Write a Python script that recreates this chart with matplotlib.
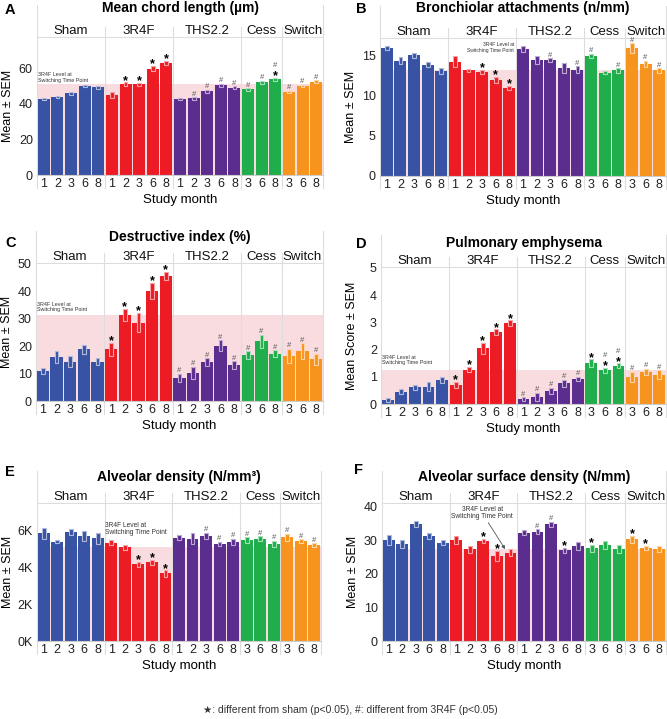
import matplotlib
matplotlib.use("Agg")
import matplotlib.pyplot as plt
from matplotlib.patches import Rectangle
from matplotlib.lines import Line2D
from matplotlib.ticker import FuncFormatter
import matplotlib.transforms as mtransforms
import numpy as np

plt.rcParams['font.family'] = ['Liberation Sans', 'DejaVu Sans']

groups = ["Sham", "3R4F", "THS2.2", "Cess", "Switch"]
months = [[1, 2, 3, 6, 8], [1, 2, 3, 6, 8], [1, 2, 3, 6, 8], [3, 6, 8], [3, 6, 8]]
colors = ["#3953a4", "#ed1c24", "#5b2d8e", "#1fae4b", "#f7941d"]

# A: mean chord length
mcl_mean = [42.4, 43.9, 45.8, 49.9, 49.1, 44.8, 51.0, 50.8, 59.7, 62.9,
            42.6, 43.0, 47.0, 50.4, 48.9, 48.0, 52.0, 53.6, 46.7, 49.9, 52.3]
mcl_sem = [0.6, 0.5, 0.7, 0.8, 0.7, 1.5, 1.0, 1.0, 1.5, 1.0,
           0.5, 0.7, 0.9, 0.8, 0.9, 0.8, 0.8, 1.0, 0.6, 0.7, 0.8]
mcl_marks = ["", "", "", "", "", "", "*", "*", "*", "*",
             "", "#", "#", "#", "#", "#", "#", "#*", "#", "#", "#"]

# B: bronchiolar attachments
ba_mean = [16.0, 14.4, 15.1, 13.9, 13.1, 14.3, 13.2, 13.0, 12.0, 11.0,
           15.9, 14.5, 14.5, 13.5, 13.3, 15.0, 12.9, 13.2, 16.0, 14.0, 13.2]
ba_sem = [0.3, 0.45, 0.3, 0.3, 0.4, 0.7, 0.2, 0.3, 0.4, 0.3,
          0.4, 0.5, 0.25, 0.6, 0.4, 0.3, 0.2, 0.3, 0.6, 0.4, 0.3]
ba_marks = ["", "", "", "", "", "", "", "*", "*", "*",
            "", "", "#", "", "#", "#", "", "#", "#", "#", "#"]

# C: destructive index
di_mean = [11.0, 16.1, 14.3, 18.8, 14.3, 18.8, 31.5, 28.6, 40.1, 45.5,
           8.5, 10.3, 14.2, 20.1, 13.1, 16.7, 21.8, 17.3, 16.5, 18.2, 15.3]
di_sem = [1.2, 2.2, 2.0, 1.6, 1.2, 2.4, 2.2, 3.5, 3.0, 1.5,
          1.5, 2.2, 1.5, 2.0, 1.5, 1.5, 2.4, 1.2, 2.5, 2.8, 2.0]
di_marks = ["", "", "", "", "", "*", "*", "*", "*", "*",
            "#", "#", "#", "#", "#", "#", "#", "#", "#", "#", "#"]

# D: pulmonary emphysema
pe_mean = [0.15, 0.45, 0.61, 0.64, 0.88, 0.71, 1.26, 2.05, 2.64, 2.97,
           0.18, 0.27, 0.49, 0.76, 0.92, 1.50, 1.23, 1.41, 1.00, 1.17, 1.08]
pe_sem = [0.07, 0.1, 0.1, 0.17, 0.12, 0.11, 0.1, 0.2, 0.1, 0.1,
          0.07, 0.15, 0.11, 0.13, 0.08, 0.14, 0.1, 0.08, 0.18, 0.12, 0.15]
pe_marks = ["", "", "", "", "", "*", "*", "*", "*", "*",
            "#", "#", "#", "#", "#", "*", "#*", "#*", "#", "#", "#"]

# E: alveolar density
ad_mean = [5850, 5400, 5930, 5710, 5580, 5350, 5090, 4160, 4270, 3670,
           5620, 5550, 5710, 5270, 5400, 5490, 5550, 5270, 5640, 5440, 5220]
ad_sem = [300, 100, 180, 270, 300, 150, 150, 120, 140, 170,
          150, 300, 180, 120, 170, 150, 140, 180, 200, 100, 100]
ad_marks = ["", "", "", "", "", "", "", "*", "*", "*",
            "", "", "#", "#", "#", "#", "#", "#", "#", "#", "#"]

# F: alveolar surface density
asd_mean = [30.0, 28.8, 34.8, 31.2, 29.2, 30.0, 27.2, 29.8, 25.2, 26.2,
            32.2, 32.5, 34.7, 26.9, 28.2, 27.5, 28.4, 27.4, 30.2, 27.6, 27.3]
asd_sem = [1.5, 1.3, 0.8, 1.0, 0.8, 1.2, 1.1, 0.6, 1.5, 1.0,
           0.8, 0.7, 0.8, 0.8, 1.1, 1.0, 1.2, 1.2, 1.0, 0.7, 0.8]
asd_marks = ["", "", "", "", "", "", "", "*", "*", "",
             "", "#", "#", "*", "", "*", "", "", "*", "*", ""]

W, H = 667, 719
fig = plt.figure(figsize=(W / 100, H / 100), dpi=100, facecolor="white")


def pale(c, f=0.6):
    rgb = np.array(matplotlib.colors.to_rgb(c))
    return tuple(rgb + (1 - rgb) * f)


def panel(px, title, letter, letter_xy, title_y, mean, sem, marks, ylim, yticks,
          ylabel="Mean ± SEM", fmt=None):
    x0, y0, x1, y1 = px
    ax = fig.add_axes([x0 / W, 1 - y1 / H, (x1 - x0) / W, (y1 - y0) / H])
    ph = y1 - y0
    bar_colors = []
    tick_labels = []
    bounds = []
    n = 0
    for g, ms in enumerate(months):
        bar_colors += [colors[g]] * len(ms)
        tick_labels += [str(m) for m in ms]
        bounds.append((n, n + len(ms)))
        n += len(ms)
    x = np.arange(n)
    band = mean[6]  # 3R4F at switching time point (month 2)
    ax.axhspan(0, band, color="#f9dcdf", zorder=0, lw=0)
    ax.bar(x, mean, width=0.88, color=bar_colors, zorder=2)
    for xi, m, s, c, mk in zip(x, mean, sem, bar_colors, marks):
        ax.add_patch(Rectangle((xi - 0.14, m - s), 0.28, 2 * s, facecolor=c,
                               edgecolor=pale(c), lw=0.8, zorder=3))
        off = 0.5
        if "*" in mk:
            ax.annotate("*", (xi, m + s), xytext=(0, off - 1.5), textcoords="offset points",
                        ha="center", va="baseline", fontsize=9, fontweight="bold",
                        color="black", zorder=4)
            off += 6.5
        if "#" in mk:
            ax.annotate("#", (xi, m + s), xytext=(0, off + 0.5), textcoords="offset points",
                        ha="center", va="baseline", fontsize=5.5, color="#555555",
                        zorder=4)
    ax.set_xlim(-0.5, n - 0.5)
    ax.set_ylim(*ylim)
    ax.set_yticks(yticks)
    if fmt is not None:
        ax.yaxis.set_major_formatter(FuncFormatter(fmt))
    ax.set_xticks(x)
    ax.set_xticklabels(tick_labels)
    ax.tick_params(axis="both", length=0, labelsize=9, colors="#222222")
    ax.tick_params(axis="x", pad=2)
    ax.tick_params(axis="y", pad=3)
    for s in ["left", "right"]:
        ax.spines[s].set_visible(False)
    ax.spines["top"].set_color("#dddddd")
    ax.spines["top"].set_linewidth(0.8)
    ax.spines["bottom"].set_color("#cccccc")
    ax.spines["bottom"].set_linewidth(0.8)
    ax.set_xlabel("Study month", fontsize=9.5, labelpad=3)
    ax.set_ylabel(ylabel, fontsize=9)
    ax.yaxis.set_label_coords(-23 / (x1 - x0), 0.5)
    trans = mtransforms.blended_transform_factory(ax.transData, ax.transAxes)
    seps = [b[0] - 0.5 for b in bounds] + [n - 0.5]
    for i, sx in enumerate(seps):
        top = 1 + 10 / ph if 0 < i < len(seps) - 1 else 1 + 32 / ph
        ax.add_line(Line2D([sx, sx], [-13 / ph, top], transform=trans, color="#dddddd",
                           lw=0.8, clip_on=False, zorder=1))
    for (a, b), g in zip(bounds, groups):
        ax.text((a + b - 1) / 2, 1 + 6 / ph, g, transform=trans, ha="center",
                va="center", fontsize=9.5, color="#111111")
    fig.text((x0 + x1) / 2 / W, 1 - title_y / H, title, ha="center", va="center",
             fontsize=10, fontweight="bold")
    fig.text(letter_xy[0] / W, 1 - letter_xy[1] / H, letter, ha="left", va="center",
             fontsize=10.5, fontweight="bold")
    return ax


note = "3R4F Level at\nSwitching Time Point"

axA = panel((37, 37, 323, 175), "Mean chord length (µm)", "A", (5, 10), 8,
            mcl_mean, mcl_sem, mcl_marks, (0, 77.4), [0, 20, 40, 60])
axA.text(-0.4, mcl_mean[6] + 0.8, note, fontsize=3.9, ha="left", va="bottom",
         linespacing=1.1, color="#333333")

axB = panel((380, 38, 666, 176), "Bronchiolar attachments (n/mm)", "B", (356, 9), 8,
            ba_mean, ba_sem, ba_marks, (0, 17.25), [0, 5, 10, 15])
axB.text(9.35, 15.4, note, fontsize=3.6, ha="right", va="bottom",
         linespacing=1.1, color="#333333", multialignment="right")

axC = panel((36, 263, 323, 401), "Destructive index (%)", "C", (5, 243), 237,
            di_mean, di_sem, di_marks, (0, 50.3), [0, 10, 20, 30, 40, 50])
axC.text(-0.4, di_mean[6] + 0.9, note, fontsize=3.9, ha="left", va="bottom",
         linespacing=1.1, color="#333333")

axD = panel((381, 267, 666, 404), "Pulmonary emphysema", "D", (356, 244), 243,
            pe_mean, pe_sem, pe_marks, (0, 5.03), [0, 1, 2, 3, 4, 5],
            ylabel="Mean Score ± SEM")
axD.text(-0.4, pe_mean[6] + 0.17, note, fontsize=3.9, ha="left", va="bottom",
         linespacing=1.1, color="#333333")

axE = panel((37, 503, 321, 641), "Alveolar density (N/mm³)", "E", (5, 472), 477,
            ad_mean, ad_sem, ad_marks, (0, 7500), [0, 2000, 4000, 6000],
            fmt=lambda v, p: f"{int(round(v / 1000))}K")
axE.text(4.55, 5700, note, fontsize=4.8, ha="left", va="bottom",
         linespacing=1.0, color="#333333")

axF = panel((382, 503, 666, 641), "Alveolar surface density (N/mm)", "F", (354, 470), 477,
            asd_mean, asd_sem, asd_marks, (0, 41), [0, 10, 20, 30, 40])
axF.annotate(note, xy=(8.6, asd_mean[6] + 0.1), xytext=(6.9, 36.0), fontsize=4.8,
             ha="center", va="bottom", linespacing=1.0, color="#333333",
             arrowprops=dict(arrowstyle="-|>", color="#555555", lw=0.6,
                             mutation_scale=5, shrinkA=0, shrinkB=0))

fig.text(0.525, 1 - 710 / H, "★: different from sham (p<0.05), #: different from 3R4F (p<0.05)",
         ha="center", va="center", fontsize=7.5, color="#333333")

fig.savefig("out.png", dpi=100, facecolor="white")
